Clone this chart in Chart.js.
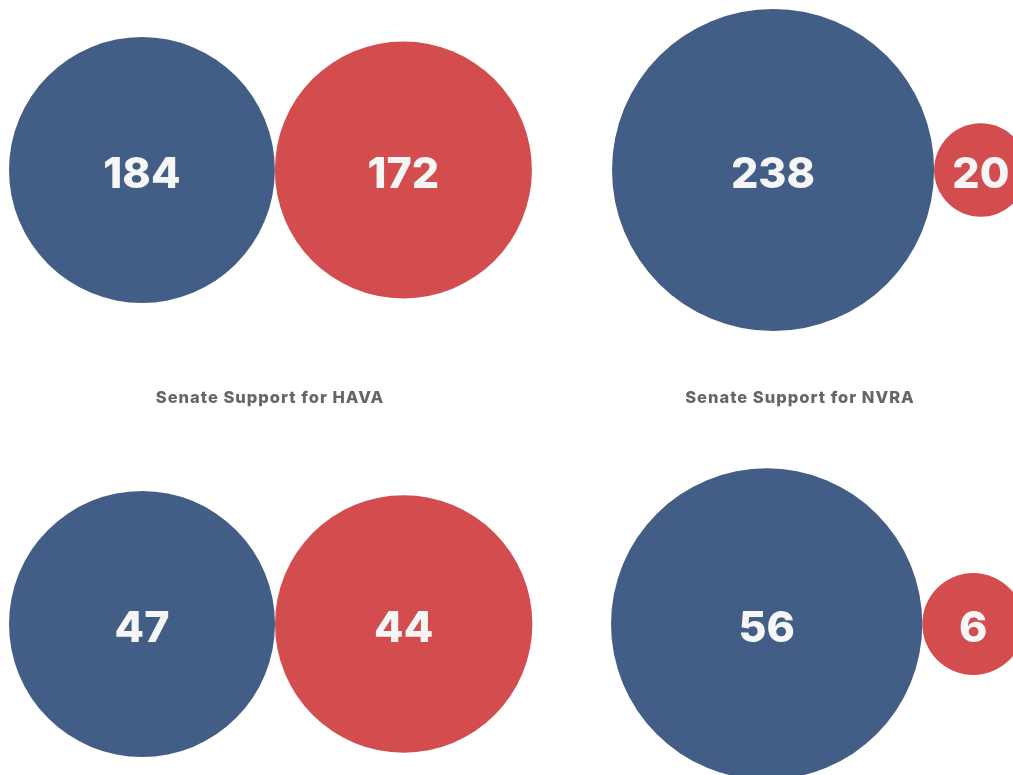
<!DOCTYPE html>
<html>
<head>
<meta charset="utf-8">
<script src="https://cdn.jsdelivr.net/npm/chart.js@4"></script>
<style>
  html, body { margin: 0; padding: 0; background: #fff; overflow: hidden; }
  #votes { display: block; }
</style>
</head>
<body>
<canvas id="votes" width="1013" height="775"></canvas>
<script>
// votes per panel: House HAVA, House NVRA, Senate HAVA, Senate NVRA
var panels = ['House HAVA', 'House NVRA', 'Senate HAVA', 'Senate NVRA'];
var demVotes = [184, 238, 47, 56];
var repVotes = [172, 20, 44, 6];
var panelTitles = ['', '', 'Senate Support for HAVA', 'Senate Support for NVRA'];

// where each pair sits on the page and how big a vote is drawn (sqrt scale)
var panelLayout = [
  { left: 9,   cy: 170, k: 9.8,   titleX: 270 },
  { left: 612, cy: 170, k: 10.44, titleX: 800 },
  { left: 9,   cy: 624, k: 19.4,  titleX: 270 },
  { left: 611, cy: 624, k: 20.8,  titleX: 800 }
];
var titleY = 398;

var demPoints = [], repPoints = [];
panels.forEach(function (p, i) {
  var L = panelLayout[i];
  var rd = L.k * Math.sqrt(demVotes[i]);
  var rr = L.k * Math.sqrt(repVotes[i]);
  var xd = L.left + rd;
  demPoints.push({ x: xd, y: L.cy, r: rd, v: demVotes[i] });
  repPoints.push({ x: xd + rd + rr, y: L.cy, r: rr, v: repVotes[i] });
});

// white numbers inside each bubble, plus the panel titles
var bubbleText = {
  id: 'bubbleText',
  afterDatasetsDraw: function (chart) {
    var ctx = chart.ctx;
    ctx.save();
    ctx.textAlign = 'center';
    ctx.textBaseline = 'middle';
    ctx.fillStyle = '#f6f6f6';
    ctx.font = '800 43px Inter';
    chart.data.datasets.forEach(function (ds, di) {
      chart.getDatasetMeta(di).data.forEach(function (el, i) {
        ctx.fillText(String(ds.data[i].v), el.x, el.y + 5);
      });
    });
    ctx.fillStyle = '#666666';
    ctx.font = '800 16.5px Inter';
    ctx.letterSpacing = '1px';
    panelTitles.forEach(function (t, i) {
      if (t) ctx.fillText(t, panelLayout[i].titleX, titleY);
    });
    ctx.restore();
  }
};

new Chart(document.getElementById('votes').getContext('2d'), {
  type: 'bubble',
  data: {
    datasets: [
      { label: 'Democrats', data: demPoints, backgroundColor: '#425e86', borderWidth: 0 },
      { label: 'Republicans', data: repPoints, backgroundColor: '#d34d4e', borderWidth: 0 }
    ]
  },
  options: {
    responsive: false,
    animation: false,
    events: [],
    layout: { padding: 0, autoPadding: false },
    plugins: { legend: { display: false }, tooltip: { enabled: false } },
    scales: {
      x: { type: 'linear', min: 0, max: 1013, display: false },
      y: { type: 'linear', min: 0, max: 775, reverse: true, display: false }
    }
  },
  plugins: [bubbleText]
});
</script>
</body>
</html>
